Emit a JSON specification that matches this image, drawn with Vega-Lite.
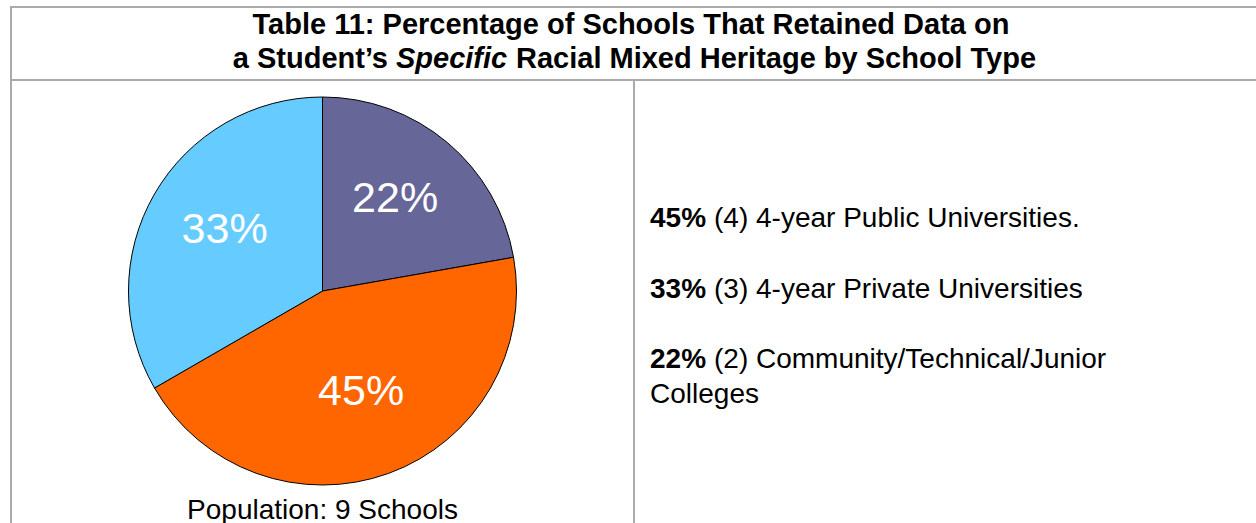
{
  "$schema": "https://vega.github.io/schema/vega-lite/v6.json",
  "padding": {"left": 10, "top": 6, "right": 0, "bottom": 0},
  "background": "white",
  "config": {
    "view": {"stroke": "#aaaaaa", "strokeWidth": 2},
    "font": "Liberation Sans",
    "concat": {"spacing": 0}
  },
  "datasets": {
    "schools": [
      {"type": "Community/Technical/Junior Colleges", "count": 2, "pct": "22%", "order": 1, "line1": "(2) Community/Technical/Junior", "line2": "Colleges"},
      {"type": "4-year Public Universities", "count": 4, "pct": "45%", "order": 2, "line1": "(4) 4-year Public Universities.", "line2": ""},
      {"type": "4-year Private Universities", "count": 3, "pct": "33%", "order": 3, "line1": "(3) 4-year Private Universities", "line2": ""}
    ],
    "heading": [
      {"line1": "Table 11: Percentage of Schools That Retained Data on", "a": "a Student’s", "b": "Specific", "c": "Racial Mixed Heritage by School Type"}
    ],
    "caption": [{"caption": "Population: 9 Schools"}]
  },
  "spacing": 0,
  "bounds": "flush",
  "vconcat": [
    {
      "width": 1247,
      "height": 73,
      "view": {"stroke": "#aaaaaa", "strokeWidth": 2},
      "data": {"name": "heading"},
      "layer": [
        {
          "mark": {"type": "text", "fontSize": 29, "fontWeight": "bold", "align": "center", "baseline": "alphabetic", "x": 620, "y": 27, "color": "black"},
          "encoding": {"text": {"field": "line1"}}
        },
        {
          "mark": {"type": "text", "fontSize": 29, "fontWeight": "bold", "align": "right", "baseline": "alphabetic", "x": 377, "y": 61, "color": "black"},
          "encoding": {"text": {"field": "a"}}
        },
        {
          "mark": {"type": "text", "fontSize": 29, "fontWeight": "bold", "fontStyle": "italic", "align": "left", "baseline": "alphabetic", "x": 385, "y": 61, "color": "black"},
          "encoding": {"text": {"field": "b"}}
        },
        {
          "mark": {"type": "text", "fontSize": 29, "fontWeight": "bold", "align": "left", "baseline": "alphabetic", "x": 505, "y": 61, "color": "black"},
          "encoding": {"text": {"field": "c"}}
        }
      ]
    },
    {
      "spacing": 0,
      "bounds": "flush",
      "hconcat": [
        {
          "width": 623,
          "height": 446,
          "view": {"stroke": "#aaaaaa", "strokeWidth": 2},
          "layer": [
            {
              "data": {"name": "schools"},
              "mark": {"type": "arc", "outerRadius": 194, "stroke": "black", "strokeWidth": 1, "x": 311.5, "y": 211},
              "encoding": {
                "theta": {"field": "count", "type": "quantitative", "stack": true},
                "order": {"field": "order", "type": "quantitative"},
                "color": {
                  "field": "type",
                  "type": "nominal",
                  "scale": {
                    "domain": ["Community/Technical/Junior Colleges", "4-year Public Universities", "4-year Private Universities"],
                    "range": ["#666699", "#FF6600", "#66CCFF"]
                  },
                  "legend": null
                }
              }
            },
            {
              "data": {"name": "schools"},
              "mark": {"type": "text", "radius": 113, "fontSize": 43, "color": "white", "align": "center", "baseline": "middle", "x": 311.5, "y": 211, "dy": -5},
              "encoding": {
                "theta": {"field": "count", "type": "quantitative", "stack": true},
                "order": {"field": "order", "type": "quantitative"},
                "text": {"field": "pct"}
              }
            },
            {
              "data": {"name": "caption"},
              "mark": {"type": "text", "fontSize": 28, "color": "black", "align": "center", "baseline": "alphabetic", "x": 311.5, "y": 439},
              "encoding": {"text": {"field": "caption"}}
            }
          ]
        },
        {
          "width": 624,
          "height": 446,
          "view": {"stroke": "#aaaaaa", "strokeWidth": 2},
          "data": {"name": "schools"},
          "encoding": {
            "y": {
              "field": "type",
              "type": "ordinal",
              "scale": {"type": "point", "padding": 0, "domain": ["4-year Public Universities", "4-year Private Universities", "Community/Technical/Junior Colleges"], "range": [147, 288]},
              "axis": null
            }
          },
          "layer": [
            {
              "mark": {"type": "text", "fontSize": 28, "fontWeight": "bold", "align": "left", "baseline": "alphabetic", "x": 16, "color": "black"},
              "encoding": {"text": {"field": "pct"}}
            },
            {
              "mark": {"type": "text", "fontSize": 28, "align": "left", "baseline": "alphabetic", "x": 80, "color": "black"},
              "encoding": {"text": {"field": "line1"}}
            },
            {
              "mark": {"type": "text", "fontSize": 28, "align": "left", "baseline": "alphabetic", "x": 16, "dy": 35, "color": "black"},
              "encoding": {"text": {"field": "line2"}}
            }
          ]
        }
      ]
    }
  ]
}
